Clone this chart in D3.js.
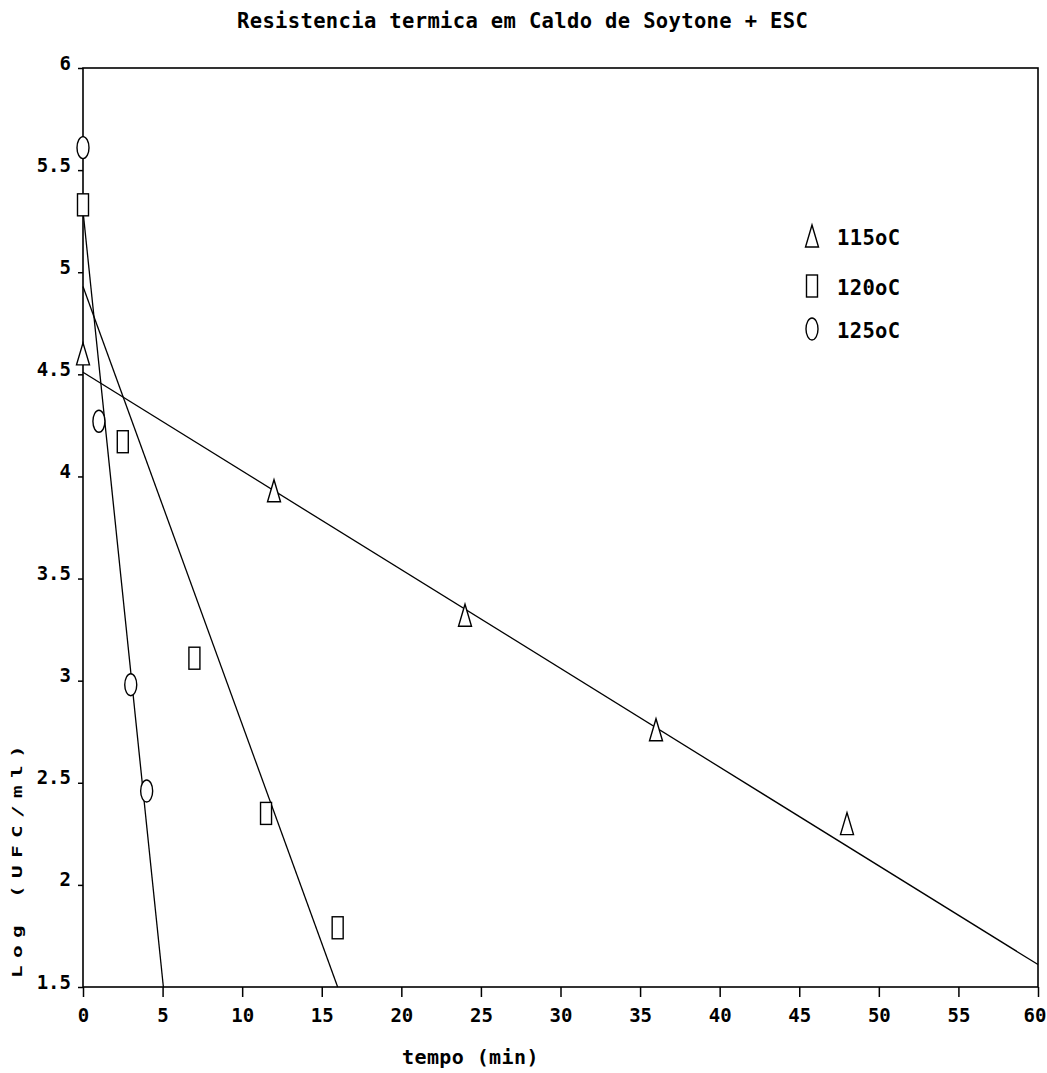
<!DOCTYPE html>
<html>
<head>
<meta charset="utf-8">
<script src="https://cdn.jsdelivr.net/npm/d3@7"></script>
<style>
  html, body { margin: 0; padding: 0; background: #fff; }
  svg { display: block; }
  text { font-family: "DejaVu Sans Mono", "Liberation Mono", monospace; font-weight: bold; fill: #000; }
</style>
</head>
<body>
<svg id="chart" width="1047" height="1073"></svg>
<script>
// Survival data: log counts vs heating time at three temperatures
const seriesNames = ["115oC", "120oC", "125oC"];

const time115 = [0, 12, 24, 36, 48];
const log115  = [4.60, 3.93, 3.32, 2.76, 2.30];

const time120 = [0, 2.5, 7, 11.5, 16];
const log120  = [5.33, 4.17, 3.11, 2.35, 1.79];

const time125 = [0, 1, 3, 4];
const log125  = [5.61, 4.27, 2.98, 2.46];

// Fitted straight lines (start and end of each)
const fit115 = [[0, 4.51], [60, 1.61]];
const fit120 = [[0, 4.93], [16, 1.50]];
const fit125 = [[0, 5.30], [5.05, 1.50]];

const xTicks = [0, 5, 10, 15, 20, 25, 30, 35, 40, 45, 50, 55, 60];
const yTicks = [1.5, 2, 2.5, 3, 3.5, 4, 4.5, 5, 5.5, 6];

const svg = d3.select("#chart");
const L = 83, R = 1038, T = 68, B = 987;

const x = d3.scaleLinear().domain([0, 60]).range([L, R]);
const y = d3.scaleLinear().domain([1.5, 6]).range([B, T]);

// Title
svg.append("text")
  .attr("x", 237).attr("y", 28)
  .attr("font-size", 20.5)
  .attr("letter-spacing", 0.35)
  .text("Resistencia termica em Caldo de Soytone + ESC");

// Frame
svg.append("rect")
  .attr("x", L).attr("y", T)
  .attr("width", R - L).attr("height", B - T)
  .attr("fill", "none").attr("stroke", "#000").attr("stroke-width", 1.6);

// X axis
const xAxis = svg.append("g")
  .attr("transform", `translate(0,${B})`)
  .call(d3.axisBottom(x).tickValues(xTicks).tickSize(10).tickPadding(12).tickFormat(d3.format("d")));
xAxis.select(".domain").remove();
xAxis.selectAll(".tick line").attr("stroke", "#000").attr("stroke-width", 1.5);
xAxis.selectAll(".tick text")
  .attr("font-size", 19).attr("font-family", null).attr("dy", "0.71em");
// keep the last label inside the page edge
xAxis.selectAll(".tick text").filter(d => d === 60)
  .attr("text-anchor", "end").attr("x", 1046 - R);

// Y axis
const yAxis = svg.append("g")
  .attr("transform", `translate(${L},0)`)
  .call(d3.axisLeft(y).tickValues(yTicks).tickSize(5).tickPadding(7).tickFormat(d3.format("")));
yAxis.select(".domain").remove();
yAxis.selectAll(".tick line").attr("stroke", "#000").attr("stroke-width", 1.5);
yAxis.selectAll(".tick text")
  .attr("font-size", 19).attr("font-family", null).attr("dy", "0").attr("y", 1);

// Axis titles
svg.append("text")
  .attr("x", 402).attr("y", 1064)
  .attr("font-size", 20).attr("letter-spacing", 0.4)
  .text("tempo (min)");

svg.append("text")
  .attr("transform", "translate(22,858) rotate(-90) scale(1.5,1)")
  .attr("text-anchor", "middle")
  .attr("font-size", 14).attr("letter-spacing", 4.9)
  .text("Log (UFC/ml)");

// Fitted lines
const line = d3.line().x(d => x(d[0])).y(d => y(d[1]));
[fit115, fit120, fit125].forEach(f => {
  svg.append("path").attr("d", line(f))
    .attr("fill", "none").attr("stroke", "#000").attr("stroke-width", 1.3);
});

// Marker shapes
function triangle(g, cx, cy) {
  g.append("path")
    .attr("d", `M${cx},${cy - 11} L${cx + 6.5},${cy + 11} L${cx - 6.5},${cy + 11} Z`)
    .attr("fill", "#fff").attr("stroke", "#000").attr("stroke-width", 1.4);
}
function box(g, cx, cy) {
  g.append("rect")
    .attr("x", cx - 5.5).attr("y", cy - 11).attr("width", 11).attr("height", 22)
    .attr("fill", "#fff").attr("stroke", "#000").attr("stroke-width", 1.4);
}
function oval(g, cx, cy) {
  g.append("ellipse")
    .attr("cx", cx).attr("cy", cy).attr("rx", 6).attr("ry", 11)
    .attr("fill", "#fff").attr("stroke", "#000").attr("stroke-width", 1.4);
}
const shapes = [triangle, box, oval];

const pts = svg.append("g");
time115.forEach((t, i) => triangle(pts, x(t), y(log115[i])));
time120.forEach((t, i) => box(pts, x(t), y(log120[i])));
time125.forEach((t, i) => oval(pts, x(t), y(log125[i])));

// Legend
const legend = svg.append("g");
const legendY = [236, 286, 329];
seriesNames.forEach((name, i) => {
  shapes[i](legend, 812, legendY[i]);
  legend.append("text")
    .attr("x", 837).attr("y", legendY[i] + 9)
    .attr("font-size", 20.5).attr("letter-spacing", 0.35)
    .text(name);
});
</script>
</body>
</html>
